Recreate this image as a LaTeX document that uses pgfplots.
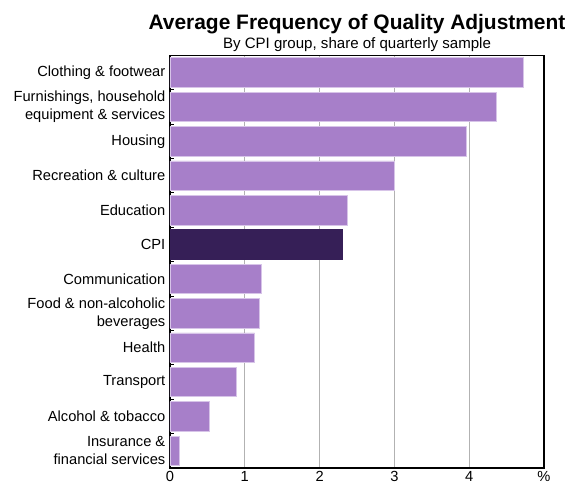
\documentclass[border=0pt]{standalone}
\usepackage{pgfplots}
\pgfplotsset{compat=1.18}
\usepackage{fontspec}
\setmainfont{Liberation Sans}
\definecolor{barlight}{RGB}{167,127,201}
\definecolor{baredge}{RGB}{215,196,232}
\definecolor{bardark}{RGB}{54,31,87}
\definecolor{gridc}{RGB}{178,178,178}
\begin{document}
\begin{tikzpicture}
\begin{axis}[
  at={(0,0)}, anchor=south west, name=ax,
  scale only axis, width=280.5pt, height=309.5pt,
  xbar, bar width=0.86,
  xmin=0, xmax=5, ymin=-0.5, ymax=11.5, y dir=reverse,
  xtick={0,1,2,3,4,5}, xticklabels={0,1,2,3,4,\%},
  xmajorgrids, grid style={gridc, line width=0.6pt},
  ytick={0,...,11},
  yticklabels={Clothing \& footwear,{Furnishings, household\\equipment \& services},Housing,Recreation \& culture,Education,CPI,Communication,{Food \& non-alcoholic\\beverages},Health,Transport,Alcohol \& tobacco,{Insurance \&\\financial services}},
  major y tick style={draw=none},
  x tick style={draw=none},
  minor ytick={0.5,1.5,...,10.5},
  minor tick length=3pt,
  minor y tick style={black, line width=0.6pt},
  tick align=inside, ytick pos=left,
  axis line style={black, line width=0.8pt},
  /pgf/number format/assume math mode=true,
  xticklabel style={font=\fontsize{11}{13}\selectfont, yshift=1pt},
  yticklabel style={align=right, font=\fontsize{11}{13.5}\selectfont},
]
\addplot[fill=barlight, draw=baredge, line width=0.5pt, bar shift=0pt] coordinates {
  (4.73,0) (4.365,1) (3.96,2) (3.00,3) (2.365,4) (1.22,6) (1.20,7) (1.13,8) (0.89,9) (0.53,10) (0.12,11)};
\addplot[fill=bardark, draw=bardark, line width=0.5pt, bar shift=0pt] coordinates {(2.30,5)};
\end{axis}
\node[anchor=base, font=\bfseries\fontsize{15.7}{18}\selectfont] at (140.25pt,328.5pt) {Average Frequency of Quality Adjustment};
\node[anchor=base, font=\fontsize{11.3}{13}\selectfont] at (140.25pt,314.5pt) {By CPI group, share of quarterly sample};
\pgfresetboundingbox
\useasboundingbox (-127.5pt,-11.25pt) rectangle (299.25pt,351pt);
\end{tikzpicture}
\end{document}
